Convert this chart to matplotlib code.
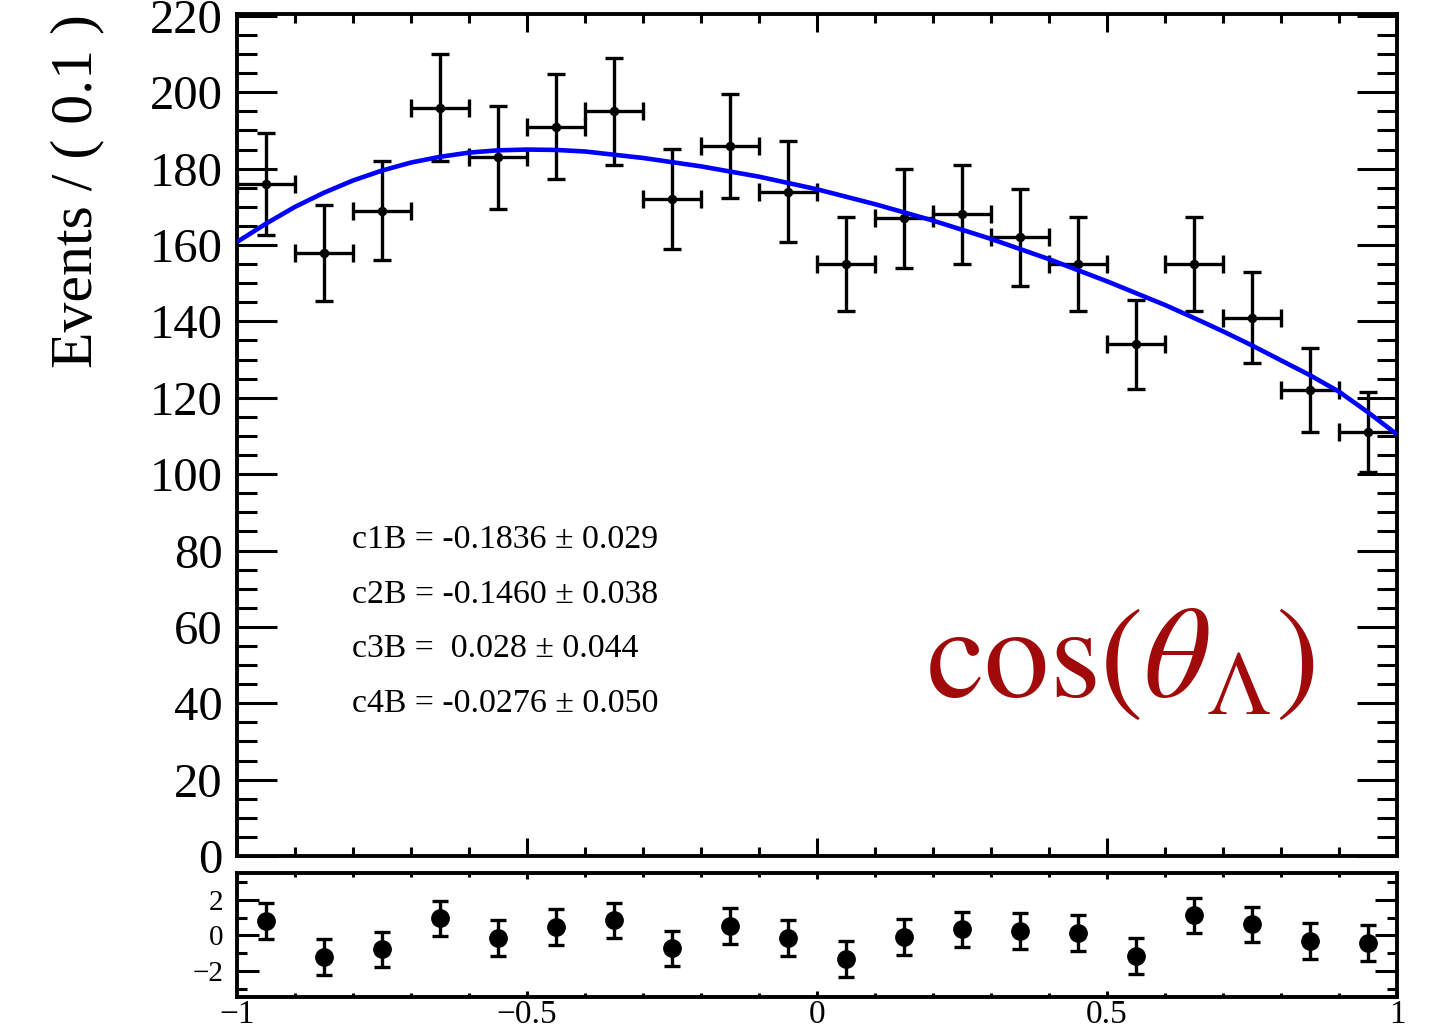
import matplotlib
matplotlib.use("Agg")
import matplotlib.pyplot as plt
from matplotlib.ticker import MultipleLocator, FixedLocator

# ---------------- data ----------------
bin_centers = [-0.95, -0.85, -0.75, -0.65, -0.55, -0.45, -0.35, -0.25, -0.15, -0.05,
               0.05, 0.15, 0.25, 0.35, 0.45, 0.55, 0.65, 0.75, 0.85, 0.95]
events = [176, 158, 169, 196, 183, 191, 195, 172, 186, 174,
          155, 167, 168, 162, 155, 134, 155, 141, 122, 111]
events_err = [13.3, 12.6, 13.0, 14.0, 13.5, 13.8, 14.0, 13.1, 13.6, 13.2,
              12.4, 12.9, 13.0, 12.7, 12.4, 11.6, 12.4, 11.9, 11.0, 10.5]
bin_halfwidth = [0.05] * 20

curve_x = [-1.0, -0.95, -0.9, -0.85, -0.8, -0.75, -0.7, -0.65, -0.6, -0.55, -0.5,
           -0.45, -0.4, -0.3, -0.2, -0.1, 0.0, 0.1, 0.2, 0.3, 0.4, 0.5, 0.6,
           0.65, 0.7, 0.75, 0.8, 0.85, 0.9, 0.95, 1.0]
curve_y = [160.8, 165.6, 170.0, 173.7, 176.9, 179.5, 181.6, 183.1, 184.2, 184.8, 185.0,
           184.9, 184.5, 182.8, 180.6, 177.9, 174.6, 170.7, 166.4, 161.6, 156.3, 150.5, 144.3,
           140.9, 137.4, 133.7, 129.8, 125.9, 121.6, 116.2, 110.4]

pulls = [0.80, -1.21, -0.78, 0.95, -0.13, 0.47, 0.84, -0.73, 0.54, -0.13,
         -1.31, -0.07, 0.34, 0.26, 0.15, -1.16, 1.12, 0.62, -0.32, -0.41]
pull_err = [1.0] * 20

param_lines = ["c1B = -0.1836 \u00b1 0.029",
               "c2B = -0.1460 \u00b1 0.038",
               "c3B =  0.028 \u00b1 0.044",
               "c4B = -0.0276 \u00b1 0.050"]
y_label = "Events / ( 0.1 )"
var_label = r"$\mathrm{cos}(\theta_{\Lambda})$"

# ---------------- style ----------------
plt.rcParams['font.family'] = ['Liberation Serif', 'DejaVu Serif']
plt.rcParams['mathtext.fontset'] = 'stix'
plt.rcParams['axes.unicode_minus'] = True

W, H = 1435, 1027
fig = plt.figure(figsize=(W / 100, H / 100), dpi=100)

def fx(px):
    return px / W

def fy(py):
    return 1 - py / H

left, right = 237, 1397
ax = fig.add_axes([fx(left), fy(856), fx(right) - fx(left), fy(14) - fy(856)])
axp = fig.add_axes([fx(left), fy(997), fx(right) - fx(left), fy(873) - fy(997)])

frame_lw = 2.8
for a in (ax, axp):
    for s in a.spines.values():
        s.set_linewidth(frame_lw)
    a.set_xlim(-1, 1)

# main panel
ax.errorbar(bin_centers, events, yerr=events_err, xerr=bin_halfwidth, fmt='o',
            color='black', ms=5.8, elinewidth=2.4, capsize=6.5, capthick=2.4, zorder=3)
ax.plot(curve_x, curve_y, color='#0000ff', lw=3.3, zorder=4, solid_capstyle='butt',
        solid_joinstyle='round')
ax.set_ylim(0, 220.5)

ax.xaxis.set_major_locator(FixedLocator([-1, -0.5, 0, 0.5, 1]))
ax.xaxis.set_minor_locator(MultipleLocator(0.1))
ax.yaxis.set_major_locator(MultipleLocator(20))
ax.yaxis.set_minor_locator(MultipleLocator(5))
ax.tick_params(axis='x', which='both', direction='in', top=True, bottom=True,
               labelbottom=False, width=2.2)
ax.tick_params(axis='x', which='major', length=13)
ax.tick_params(axis='x', which='minor', length=6.5)
ax.tick_params(axis='y', which='both', direction='in', left=True, right=True, width=2.2)
ax.tick_params(axis='y', which='major', length=29, labelsize=35, pad=10.5)
ax.tick_params(axis='y', which='minor', length=14.4)

fig.text(fx(77), fy(14), y_label, rotation=90, ha='center', va='top', fontsize=43)

for i, t in enumerate(param_lines):
    fig.text(fx(352), fy(540 + i * 54.5), t, ha='left', va='center', fontsize=24.4)

fig.text(fx(926), fy(665), var_label, ha='left', va='center', fontsize=94, color='#a00a0a')

# pull panel
axp.errorbar(bin_centers, pulls, yerr=pull_err, fmt='o', color='black', ms=12.5,
             elinewidth=2.4, capsize=5.5, capthick=2.4, zorder=3)
axp.set_ylim(-3.45, 3.5)
axp.xaxis.set_major_locator(FixedLocator([-1, -0.5, 0, 0.5, 1]))
axp.xaxis.set_minor_locator(MultipleLocator(0.1))
axp.yaxis.set_major_locator(MultipleLocator(2))
axp.yaxis.set_minor_locator(MultipleLocator(1))
axp.set_xticklabels(["\u22121", "\u22120.5", "0", "0.5", "1"])
axp.tick_params(axis='x', which='both', direction='in', top=True, bottom=True, width=2.2)
axp.tick_params(axis='x', which='major', length=4.5, labelsize=24, pad=2)
axp.tick_params(axis='x', which='minor', length=3)
axp.tick_params(axis='y', which='both', direction='in', left=True, right=True, width=2.2)
axp.tick_params(axis='y', which='major', length=16, labelsize=21, pad=10)
axp.tick_params(axis='y', which='minor', length=7.5)

fig.savefig("out.png", dpi=100)
